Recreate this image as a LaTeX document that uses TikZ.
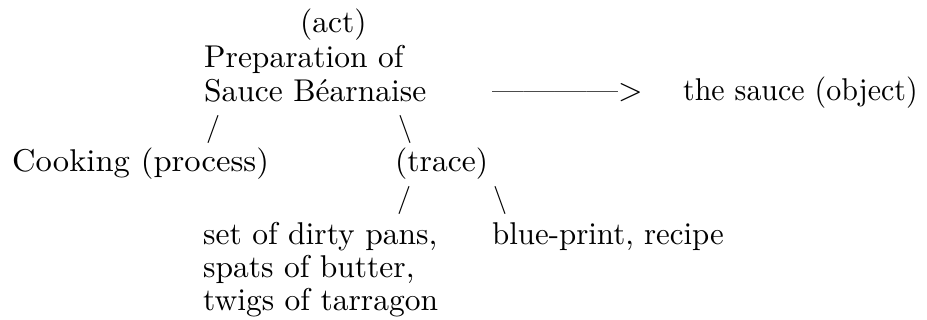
\documentclass[tikz,border=0pt]{standalone}
\usepackage{fontspec}
\setmainfont{lmroman10-regular.otf}
\tikzset{
  lbl/.style={anchor=base west, inner sep=0pt, font=\fontsize{31.5}{34}\selectfont},
  sl/.style={inner sep=0pt, font=\fontsize{28}{28}\selectfont}
}
\begin{document}
\begin{tikzpicture}[x=1pt,y=-1pt]
\useasboundingbox (0,0) rectangle (927,320);
\node[lbl] (act) at (300,33) {(act)};
\node[lbl] (prep) at (204,68) {Preparation of};
\node[lbl] (sauce) at (204,102) {Sauce Béarnaise};
\node[lbl] (arrow) at (492,101) {\textemdash\textemdash\textemdash\textemdash>};
\node[lbl, xscale=0.95] (obj) at (683,101) {the sauce (object)};
\node[sl] (s1) at (213,130) {/};
\node[sl] (s2) at (405,130) {\textbackslash};
\node[lbl, xscale=1.035] (cook) at (12,172) {Cooking (process)};
\node[lbl] (trace) at (395,172) {(trace)};
\node[sl] (s3) at (404,201) {/};
\node[sl] (s4) at (500,201) {\textbackslash};
\node[lbl] (dirty) at (203,245) {set of dirty pans,};
\node[lbl] (spats) at (203,278) {spats of butter,};
\node[lbl] (twigs) at (203,311) {twigs of tarragon};
\node[lbl, xscale=0.98] (blue) at (492,245) {blue-print, recipe};
\end{tikzpicture}
\end{document}
